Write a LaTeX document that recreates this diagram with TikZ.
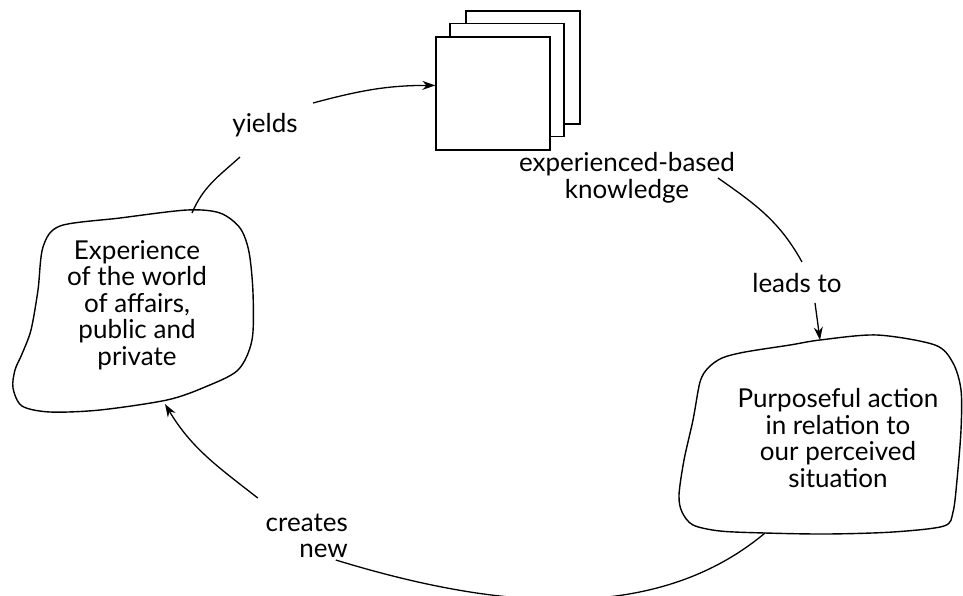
\documentclass[tikz,border=0pt]{standalone}
\usepackage{fontspec}
\setmainfont{Lato}
\usetikzlibrary{arrows.meta}
\begin{document}
\begin{tikzpicture}[x=1pt,y=-1pt]
      \tikzstyle{every node}+=[inner sep=0pt, font=\fontsize{26}{26.5}\selectfont, align=center]
      \tikzstyle{sheet}=[draw=black, fill=white, line width=1.4pt, minimum width=114pt, minimum height=113pt]
      \tikzstyle{link}=[black, line width=1.3pt]
      \tikzstyle{tip}=[-{Stealth[length=13pt,width=9pt]}]
      \useasboundingbox (0,0) rectangle (963,595);
      % the two clouds
      \draw [black, line width=1.4pt] plot [smooth cycle, tension=0.5] coordinates {
        (60,226) (120,218) (187,210) (220,213) (240,228) (249,252) (253,293) (252,340)
        (238,370) (205,387) (167,400) (100,410) (50,412) (22,406) (13,388) (15,370)
        (22,354) (31,330) (38,290) (43,247)};
      \draw [black, line width=1.4pt] plot [smooth cycle, tension=0.5] coordinates {
        (745,352) (790,345) (820,340) (877,335) (935,345) (953,363) (961,390) (961,430)
        (957,480) (953,512) (944,526) (893,532) (827,534) (765,533) (720,531)
        (693,525) (682,512) (679,495) (684,460) (693,420) (700,382) (708,368) (722,358)};
      \node (exp) at (137,305) {Experience\\of the world\\of affairs,\\public and\\private};
      \node (act) at (838,438) {Purposeful action\\in relation to\\our perceived\\situation};
      % stack of sheets
      \node [sheet] (back) at (523,67.5) {};
      \node [sheet] (mid) at (507,80) {};
      \node [sheet] (front) at (493,93.5) {};
      \node (know) at (627,178) {experienced-based\\knowledge};
      % labels
      \node (yields) at (265,125) {yields};
      \node (leads) at (797,283) {leads to};
      \node [anchor=east, align=right] (creates) at (348,536) {creates\\new};
      \coordinate (expTop) at (192,213);
      \coordinate (expBot) at (165,404);
      \coordinate (actTop) at (820,340);
      \coordinate (actBot) at (765,533);
      % connectors
      \draw [link] (expTop) to[out=67, in=222] ([shift={(-25,20)}]yields.south);
      \draw [link, tip] ([shift={(48,-22)}]yields.center) to[out=15, in=180] (front.172);
      \draw [link] ([shift={(91,0)}]know.center) to[out=-35, in=119] ([shift={(5,-21)}]leads.center);
      \draw [link, tip] ([shift={(18,20)}]leads.center) -- (actTop);
      \draw [link] (actBot) to[out=220, in=-17, looseness=0.9] ([shift={(29,24)}]creates.center);
      \draw [link, tip] ([shift={(-49,-38)}]creates.center) to[out=142, in=-59] (expBot);
\end{tikzpicture}
\end{document}
